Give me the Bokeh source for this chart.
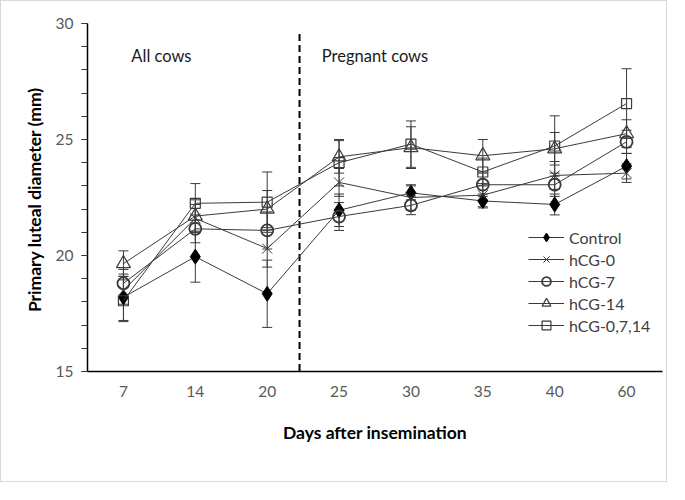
from bokeh.plotting import figure
from bokeh.models import (ColumnDataSource, Whisker, Range1d, FactorRange,
                          SingleIntervalTicker, Legend, LegendItem, Label, TeeHead)
from bokeh.embed import file_html
from bokeh.resources import INLINE

days = ["7", "14", "20", "25", "30", "35", "40", "60"]
series_names = ["Control", "hCG-0", "hCG-7", "hCG-14", "hCG-0,7,14"]

control = [18.2, 19.95, 18.35, 21.95, 22.7, 22.35, 22.2, 23.85]
control_se = [1.0, 1.1, 1.45, 0.7, 0.3, 0.3, 0.45, 0.55]
hcg0 = [18.5, 21.6, 20.3, 23.15, 22.5, 22.6, 23.45, 23.55]
hcg0_se = [0.6, 0.6, 0.8, 0.6, 0.55, 0.5, 0.6, 0.4]
hcg7 = [18.8, 21.15, 21.08, 21.68, 22.16, 23.05, 23.05, 24.9]
hcg7_se = [0.6, 0.6, 0.8, 0.6, 0.4, 0.5, 0.5, 0.5]
hcg14 = [19.65, 21.7, 22.0, 24.25, 24.65, 24.3, 24.6, 25.25]
hcg14_se = [0.55, 0.7, 0.8, 0.7, 0.9, 0.7, 0.7, 0.6]
hcg0714 = [18.05, 22.25, 22.3, 24.0, 24.8, 23.6, 24.72, 26.55]
hcg0714_se = [0.9, 0.85, 1.3, 1.0, 1.0, 0.6, 1.3, 1.5]

y_ticks_major = 5
y_min, y_max = 15, 30
divider_pos = 2.95  # between day 20 and day 25

FONT = "Lato"
LINE = "#3a3a3a"

p = figure(width=667, height=482, x_range=FactorRange(*days, range_padding=0),
           y_range=Range1d(y_min, y_max), output_backend="svg",
           toolbar_location=None, min_border_left=86, min_border_right=6,
           min_border_top=22, min_border_bottom=112)
p.styles = {"border": "1px solid #d9d9d9"}
p.outline_line_color = None
p.xgrid.visible = False
p.ygrid.visible = False
p.background_fill_color = "white"
p.border_fill_color = "white"

# axes
p.yaxis.ticker = SingleIntervalTicker(interval=y_ticks_major, num_minor_ticks=5)
p.yaxis.major_tick_out = 6
p.yaxis.major_tick_in = 0
p.yaxis.minor_tick_out = 6
p.yaxis.minor_tick_in = 0
p.yaxis.axis_line_width = 1.5
p.yaxis.axis_line_color = "black"
p.yaxis.major_tick_line_color = "#333333"
p.yaxis.minor_tick_line_color = "#333333"
p.yaxis.major_label_standoff = 8
p.yaxis.axis_label = "Primary  luteal diameter (mm)"
p.yaxis.axis_label_standoff = 8

p.xaxis.major_tick_out = 0
p.xaxis.major_tick_in = 0
p.xaxis.minor_tick_out = 0
p.xaxis.axis_line_width = 1.5
p.xaxis.axis_line_color = "black"
p.xaxis.major_label_standoff = 14
p.xaxis.axis_label = "Days after insemination"
p.xaxis.axis_label_standoff = 22

for ax in (p.xaxis, p.yaxis):
    ax.major_label_text_font = FONT
    ax.major_label_text_font_size = "15.5px"
    ax.major_label_text_color = "#595959"
    ax.axis_label_text_font = FONT
    ax.axis_label_text_font_size = "17.5px"
    ax.axis_label_text_font_style = "bold"
    ax.axis_label_text_color = "black"

# divider
div_src = ColumnDataSource(dict(x0=[divider_pos], x1=[divider_pos], y0=[29.55], y1=[y_min]))
p.segment(x0="x0", y0="y0", x1="x1", y1="y1", source=div_src,
          line_color="black", line_width=2, line_dash="7 4")

p.add_layout(Label(x=0.61, y=28.62, text="All cows", text_font=FONT,
                   text_font_size="16.5px", text_color="#1a1a1a", text_baseline="middle"))
p.add_layout(Label(x=3.26, y=28.62, text="Pregnant cows", text_font=FONT,
                   text_font_size="16.5px", text_color="#1a1a1a", text_baseline="middle"))

series = [
    ("Control", control, control_se, dict(marker="diamond", size=15, fill_color="black", line_color="black")),
    ("hCG-0", hcg0, hcg0_se, dict(marker="x", size=14, line_color=LINE, line_width=1)),
    ("hCG-7", hcg7, hcg7_se, dict(marker="circle", size=12, fill_color="white", fill_alpha=0, line_color=LINE, line_width=1.8)),
    ("hCG-14", hcg14, hcg14_se, dict(marker="triangle", size=14, fill_color="white", fill_alpha=0, line_color=LINE, line_width=1.2)),
    ("hCG-0,7,14", hcg0714, hcg0714_se, dict(marker="square", size=10, fill_color="white", fill_alpha=0, line_color=LINE, line_width=1.2)),
]

items = []
for name, vals, se, mk in series:
    src = ColumnDataSource(dict(x=days, y=vals,
                                upper=[v + s for v, s in zip(vals, se)],
                                lower=[v - s for v, s in zip(vals, se)]))
    w = Whisker(source=src, base="x", upper="upper", lower="lower",
                line_color=LINE, line_width=1,
                upper_head=TeeHead(size=10, line_color=LINE, line_width=1),
                lower_head=TeeHead(size=10, line_color=LINE, line_width=1))
    p.add_layout(w)
    ln = p.line("x", "y", source=src, line_color=LINE, line_width=1)
    sc = p.scatter("x", "y", source=src, **mk)
    items.append(LegendItem(label=name, renderers=[ln, sc]))

legend = Legend(items=items, location=(441, 35), border_line_color=None,
                background_fill_alpha=0, padding=0, margin=0, spacing=0,
                label_standoff=5, glyph_width=36, glyph_height=22, label_height=22,
                label_text_font=FONT, label_text_font_size="16px",
                label_text_color="#404040")
p.add_layout(legend, "center")

open("out.html", "w").write(file_html(p, INLINE))
